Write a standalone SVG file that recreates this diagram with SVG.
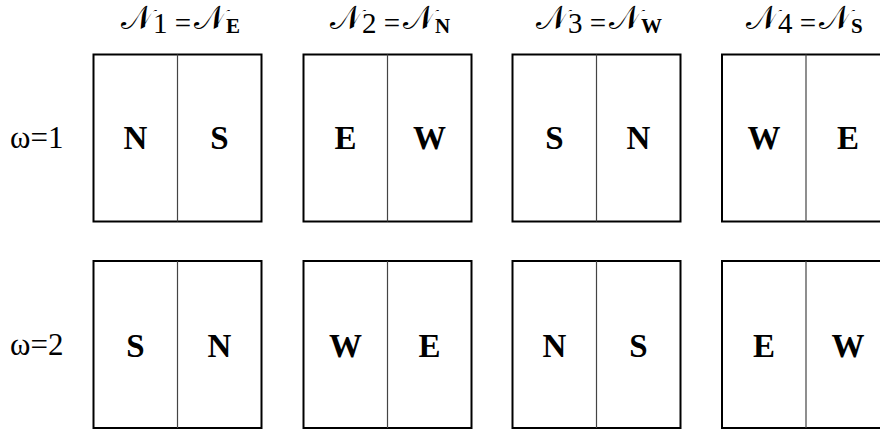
<svg xmlns="http://www.w3.org/2000/svg" width="880" height="432" viewBox="0 0 880 432">
<style>
.bg{fill:#fff}
.box{fill:#fff;stroke:#000;stroke-width:2}
.div{stroke:#444;stroke-width:1.2}
.cell{font-family:"Liberation Serif","Times New Roman",serif;font-weight:bold;font-size:33px;text-anchor:middle;fill:#000}
.lab{font-family:"Liberation Serif","Times New Roman",serif;font-size:31px;fill:#000}
.hd{font-family:"Liberation Serif","DejaVu Serif","DejaVu Sans",serif;font-size:29px;fill:#000}
.cal{font-size:33px}
.sub{font-weight:bold;font-size:21px}
</style>
<rect class="bg" x="0" y="0" width="880" height="432"/>
<g id="headers">
<text class="hd" x="121" y="33"><tspan class="cal" dy="-4">𝒩</tspan><tspan dy="4">1</tspan> =<tspan class="cal" dx="3" dy="-4">𝒩</tspan><tspan class="sub" dy="4">E</tspan></text>
<text class="hd" x="330" y="33"><tspan class="cal" dy="-4">𝒩</tspan><tspan dy="4">2</tspan> =<tspan class="cal" dx="3" dy="-4">𝒩</tspan><tspan class="sub" dy="4">N</tspan></text>
<text class="hd" x="536" y="33"><tspan class="cal" dy="-4">𝒩</tspan><tspan dy="4">3</tspan> =<tspan class="cal" dx="3" dy="-4">𝒩</tspan><tspan class="sub" dy="4">W</tspan></text>
<text class="hd" x="746" y="33"><tspan class="cal" dy="-4">𝒩</tspan><tspan dy="4">4</tspan> =<tspan class="cal" dx="3" dy="-4">𝒩</tspan><tspan class="sub" dy="4">S</tspan></text>
</g>
<g id="row-labels">
<text class="lab" x="10" y="148">ω=1</text>
<text class="lab" x="10" y="355">ω=2</text>
</g>
<g id="n1-w1"><rect class="box" x="93.5" y="54.5" width="168" height="167"/><line class="div" x1="177.5" y1="54.5" x2="177.5" y2="221.5"/><text class="cell" x="135.5" y="149">N</text><text class="cell" x="219.5" y="149">S</text></g>
<g id="n2-w1"><rect class="box" x="303.5" y="54.5" width="168" height="167"/><line class="div" x1="387.5" y1="54.5" x2="387.5" y2="221.5"/><text class="cell" x="345.5" y="149">E</text><text class="cell" x="429.5" y="149">W</text></g>
<g id="n3-w1"><rect class="box" x="512.5" y="54.5" width="168" height="167"/><line class="div" x1="596.5" y1="54.5" x2="596.5" y2="221.5"/><text class="cell" x="554.5" y="149">S</text><text class="cell" x="638.5" y="149">N</text></g>
<g id="n4-w1"><rect class="box" x="722" y="54.5" width="168" height="167"/><line class="div" x1="806" y1="54.5" x2="806" y2="221.5"/><text class="cell" x="764" y="149">W</text><text class="cell" x="848" y="149">E</text></g>
<g id="n1-w2"><rect class="box" x="93.5" y="261" width="168" height="167"/><line class="div" x1="177.5" y1="261" x2="177.5" y2="428"/><text class="cell" x="135.5" y="357">S</text><text class="cell" x="219.5" y="357">N</text></g>
<g id="n2-w2"><rect class="box" x="303.5" y="261" width="168" height="167"/><line class="div" x1="387.5" y1="261" x2="387.5" y2="428"/><text class="cell" x="345.5" y="357">W</text><text class="cell" x="429.5" y="357">E</text></g>
<g id="n3-w2"><rect class="box" x="512.5" y="261" width="168" height="167"/><line class="div" x1="596.5" y1="261" x2="596.5" y2="428"/><text class="cell" x="554.5" y="357">N</text><text class="cell" x="638.5" y="357">S</text></g>
<g id="n4-w2"><rect class="box" x="722" y="261" width="168" height="167"/><line class="div" x1="806" y1="261" x2="806" y2="428"/><text class="cell" x="764" y="357">E</text><text class="cell" x="848" y="357">W</text></g>
<g id="connectors"/>
</svg>
